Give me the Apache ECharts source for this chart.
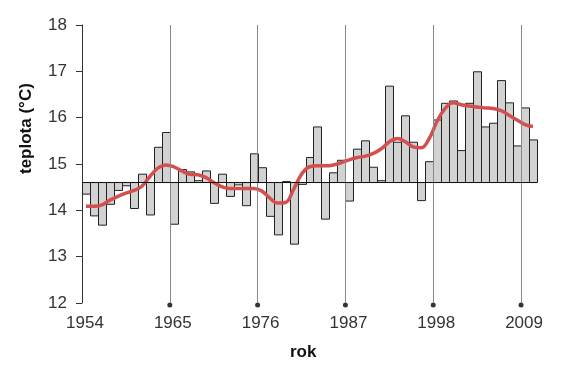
<!DOCTYPE html>
<html>
<head>
<meta charset="utf-8">
<script src="https://cdn.jsdelivr.net/npm/echarts@6/dist/echarts.min.js"></script>
<style>html,body{margin:0;padding:0;background:#fff}#c{width:561px;height:373px}</style>
</head>
<body>
<div id="c"></div>
<script>
var years = [];
for (var y = 1954; y <= 2010; y++) years.push(y);
var temps = [14.35,13.88,13.68,14.13,14.43,14.53,14.04,14.78,13.90,15.36,
             15.68,13.70,14.88,14.83,14.64,14.85,14.15,14.78,14.30,14.55,
             14.10,15.22,14.92,13.87,13.47,14.62,13.27,14.56,15.14,15.80,
             13.81,14.81,15.08,14.20,15.32,15.50,14.93,14.64,16.68,15.47,
             16.04,15.47,14.21,15.05,15.95,16.31,16.36,15.29,16.31,16.99,
             15.80,15.88,16.80,16.32,15.39,16.21,15.52];
var smoothTemps = [14.09,14.09,14.12,14.22,14.30,14.37,14.43,14.52,14.73,14.91,
                   14.98,14.94,14.85,14.78,14.77,14.71,14.60,14.51,14.47,14.47,
                   14.47,14.47,14.42,14.27,14.16,14.17,14.45,14.78,14.94,14.96,
                   14.96,14.98,15.03,15.09,15.14,15.17,15.23,15.33,15.48,15.55,
                   15.48,15.37,15.35,15.55,15.93,16.20,16.32,16.28,16.25,16.23,
                   16.21,16.20,16.15,16.05,15.95,15.85,15.81];
var baseline = 14.6;
var xTicks = [1954, 1965, 1976, 1987, 1998, 2009];
var markYears = [1965, 1976, 1987, 1998, 2009];
var yMin = 12, yMax = 18;

var barData = years.map(function (yr, i) { return [yr, temps[i]]; });
var lineData = years.map(function (yr, i) { return [yr + 0.5, smoothTemps[i]]; });
var dotData = markYears.map(function (yr) { return [yr, yMin]; });

var font = 'Liberation Sans, Arial, sans-serif';
var chart = echarts.init(document.getElementById('c'));
chart.setOption({
  animation: false,
  backgroundColor: '#fff',
  grid: { left: 82, top: 25, right: 24, bottom: 70 },
  xAxis: {
    type: 'value', min: 1954, max: 2011,
    axisLine: { show: false }, axisTick: { show: false }, splitLine: { show: false },
    axisLabel: {
      customValues: xTicks, margin: 12, color: '#333', fontSize: 17, fontFamily: font,
      padding: [0, 0, 0, 6],
      formatter: function (v) { return String(v); }
    }
  },
  yAxis: {
    type: 'value', min: yMin, max: yMax, interval: 1,
    axisLine: { show: true, lineStyle: { color: '#333', width: 1 } },
    axisTick: { show: true, length: 6, lineStyle: { color: '#333' } },
    splitLine: { show: false },
    axisLabel: { margin: 15, color: '#333', fontSize: 17, fontFamily: font }
  },
  graphic: [
    { type: 'text', left: 290, top: 344, style: { text: 'rok', font: 'bold 17px ' + font, fill: '#111' } },
    { type: 'text', x: 18, y: 174, rotation: Math.PI / 2,
      style: { text: 'teplota (°C)', font: 'bold 17px ' + font, fill: '#111' } }
  ],
  series: [
    {
      type: 'scatter', data: dotData, symbolSize: 5, symbolOffset: [0, 2],
      itemStyle: { color: '#000' }, clip: false, z: 1,
      markLine: {
        symbol: 'none', silent: true, label: { show: false },
        lineStyle: { color: '#888', width: 1, type: 'solid' },
        data: markYears.map(function (yr) { return { xAxis: yr }; })
      }
    },
    {
      type: 'custom', z: 2,
      data: barData,
      renderItem: function (params, api) {
        var p0 = api.coord([api.value(0), baseline]);
        var p1 = api.coord([api.value(0) + 1, api.value(1)]);
        var x = Math.round(p0[0]) + 0.5, w = Math.round(p1[0]) - Math.round(p0[0]);
        var yTop = Math.min(p0[1], p1[1]), h = Math.abs(p1[1] - p0[1]);
        return {
          type: 'rect',
          shape: { x: x, y: yTop, width: w, height: h },
          style: { fill: '#d2d2d2', stroke: '#222', lineWidth: 1 }
        };
      },
      markLine: {
        symbol: 'none', silent: true, label: { show: false },
        lineStyle: { color: '#111', width: 1, type: 'solid' },
        data: [{ yAxis: baseline }]
      }
    },
    {
      type: 'line', data: lineData, smooth: 0.4, showSymbol: false, z: 3,
      lineStyle: { color: '#d44f4f', width: 3.5 }
    }
  ]
});
</script>
</body>
</html>
